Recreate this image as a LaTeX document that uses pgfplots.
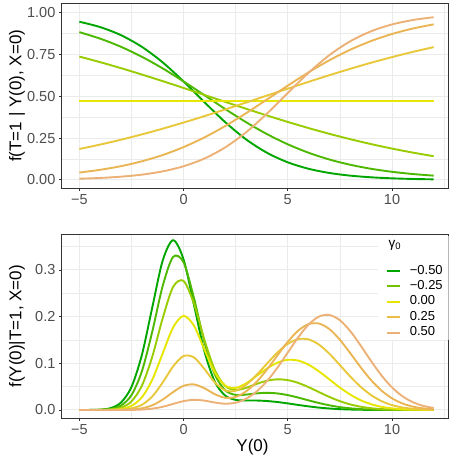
\documentclass[border=0pt]{standalone}
\usepackage{fontspec}
\setmainfont{Liberation Sans}
\usepackage{pgfplots}
\usepackage{pgfplotstable}
\pgfplotsset{compat=1.18}

\definecolor{cA}{HTML}{00A600}
\definecolor{cB}{HTML}{4DB800}
\definecolor{cC}{HTML}{99CC00}
\definecolor{cD}{HTML}{E6E600}
\definecolor{cE}{HTML}{E8C83A}
\definecolor{cF}{HTML}{EAB655}
\definecolor{cG}{HTML}{ECB176}
\definecolor{lB}{HTML}{73C200}
\definecolor{lE}{HTML}{E9BF48}
\definecolor{gridc}{HTML}{EBEBEB}
\definecolor{tickc}{HTML}{4D4D4D}
\definecolor{borderc}{HTML}{333333}

% propensity f(T=1 | Y(0), X=0) for the seven gamma values
\pgfplotstableread{
x  a      b      c      e      f      g
-5 0.9458 0.8836 0.7375 0.1849 0.0441 0.0072
-4 0.9137 0.8447 0.7041 0.2114 0.0605 0.0119
-3 0.8653 0.7958 0.6682 0.2405 0.0824 0.0195
-2 0.7958 0.7363 0.6302 0.2722 0.1114 0.0317
-1 0.7027 0.6667 0.5907 0.3065 0.1489 0.0512
0  0.5890 0.5890 0.5498 0.3430 0.1962 0.0817
1  0.4651 0.5067 0.5083 0.3815 0.2541 0.1279
2  0.3452 0.4239 0.4667 0.4215 0.3223 0.1947
3  0.2423 0.3452 0.4256 0.4626 0.3989 0.2850
4  0.1625 0.2742 0.3854 0.5042 0.4808 0.3965
5  0.1053 0.2130 0.3468 0.5457 0.5638 0.5200
6  0.0666 0.1625 0.3100 0.5866 0.6434 0.6411
7  0.0415 0.1220 0.2755 0.6264 0.7157 0.7465
8  0.0256 0.0906 0.2435 0.6645 0.7785 0.8292
9  0.0157 0.0666 0.2142 0.7006 0.8306 0.8889
10 0.0096 0.0486 0.1874 0.7343 0.8725 0.9296
11 0.0058 0.0353 0.1634 0.7656 0.9052 0.9561
12 0.0035 0.0256 0.1418 0.7941 0.9302 0.9729
}\topdata

% density f(Y(0) | T=1, X=0) for the seven gamma values
\pgfplotstableread{
x    a      b      c      d      e      f      g
-5   0.0000 0.0000 0.0000 0.0000 0.0000 0.0000 0.0000
-4.5 0.0001 0.0001 0.0000 0.0000 0.0000 0.0000 0.0000
-4   0.0008 0.0004 0.0002 0.0001 0.0000 0.0000 0.0000
-3.5 0.0040 0.0022 0.0011 0.0004 0.0001 0.0000 0.0000
-3   0.0160 0.0095 0.0050 0.0022 0.0008 0.0002 0.0000
-2.5 0.0491 0.0317 0.0183 0.0088 0.0033 0.0010 0.0002
-2   0.1177 0.0827 0.0518 0.0271 0.0111 0.0036 0.0009
-1.5 0.2199 0.1680 0.1143 0.0649 0.0290 0.0101 0.0029
-1   0.3203 0.2659 0.1967 0.1214 0.0589 0.0223 0.0069
-0.5 0.3638 0.3282 0.2639 0.1770 0.0934 0.0385 0.0130
0    0.3227 0.3166 0.2766 0.2017 0.1157 0.0518 0.0190
0.5  0.2251 0.2399 0.2279 0.1806 0.1126 0.0548 0.0218
1    0.1259 0.1458 0.1505 0.1297 0.0879 0.0465 0.0201
1.5  0.0606 0.0763 0.0856 0.0802 0.0590 0.0339 0.0160
2    0.0308 0.0421 0.0514 0.0523 0.0419 0.0262 0.0134
2.5  0.0217 0.0323 0.0429 0.0474 0.0412 0.0280 0.0156
3    0.0204 0.0330 0.0475 0.0571 0.0540 0.0399 0.0241
3.5  0.0203 0.0356 0.0558 0.0729 0.0749 0.0601 0.0394
4    0.0192 0.0368 0.0626 0.0889 0.0993 0.0866 0.0618
4.5  0.0171 0.0355 0.0657 0.1014 0.1230 0.1167 0.0904
5    0.0141 0.0319 0.0640 0.1075 0.1418 0.1461 0.1231
5.5  0.0108 0.0266 0.0581 0.1059 0.1519 0.1701 0.1557
6    0.0077 0.0206 0.0489 0.0970 0.1512 0.1841 0.1832
6.5  0.0051 0.0149 0.0383 0.0826 0.1400 0.1852 0.2003
7    0.0032 0.0100 0.0279 0.0654 0.1204 0.1732 0.2036
7.5  0.0018 0.0062 0.0189 0.0481 0.0963 0.1505 0.1923
8    0.0010 0.0036 0.0119 0.0329 0.0716 0.1216 0.1689
8.5  0.0005 0.0019 0.0070 0.0209 0.0495 0.0914 0.1379
9    0.0002 0.0010 0.0038 0.0124 0.0318 0.0638 0.1047
9.5  0.0001 0.0004 0.0019 0.0068 0.0190 0.0414 0.0738
10   0.0000 0.0002 0.0009 0.0035 0.0105 0.0250 0.0484
10.5 0.0000 0.0001 0.0004 0.0016 0.0054 0.0140 0.0295
11   0.0000 0.0000 0.0002 0.0007 0.0026 0.0073 0.0167
11.5 0.0000 0.0000 0.0001 0.0003 0.0012 0.0035 0.0088
12   0.0000 0.0000 0.0000 0.0001 0.0005 0.0016 0.0043
}\botdata

\pgfplotsset{
  myaxis/.style={
    scale only axis,
    anchor=south west,
    width=386.9pt,
    xmin=-5.85, xmax=12.71,
    xtick={-5,0,5,10}, xticklabels={−5,0,5,10},
    minor xtick={-2.5,2.5,7.5,12.5},
    grid=both,
    major grid style={gridc, line width=1pt},
    minor grid style={gridc, line width=0.55pt},
    tick align=outside,
    tick pos=left,
    major tick length=2.7pt,
    minor tick length=0pt,
    tick style={borderc, line width=0.9pt},
    axis line style={borderc, line width=0.9pt},
    ticklabel style={font=\fontsize{14.5}{17}\selectfont, color=tickc},
    label style={font=\fontsize{17}{20}\selectfont},
    every axis plot/.append style={line width=1.9pt, smooth, no markers},
  }
}

\begin{document}
\begin{tikzpicture}
\path[use as bounding box] (0,0) rectangle (449pt,461pt);

\begin{axis}[myaxis,
  at={(61.6pt,272.7pt)},
  height=185pt,
  ymin=-0.05, ymax=1.056,
  ytick={0,0.25,0.5,0.75,1}, yticklabels={0.00,0.25,0.50,0.75,1.00},
  minor ytick={0.125,0.375,0.625,0.875},
  ylabel={f(T=1 | Y(0), X=0)},
  ylabel style={at={(axis description cs:-0.1153,0.5)}, anchor=center},
]
\addplot[cA] table[x=x, y=a] {\topdata};
\addplot[cB] table[x=x, y=b] {\topdata};
\addplot[cC] table[x=x, y=c] {\topdata};
\addplot[cD] coordinates {(-5,0.473) (12,0.473)};
\addplot[cE] table[x=x, y=e] {\topdata};
\addplot[cF] table[x=x, y=f] {\topdata};
\addplot[cG] table[x=x, y=g] {\topdata};
\end{axis}

\begin{axis}[myaxis,
  at={(61.6pt,42.7pt)},
  height=184pt,
  ymin=-0.0178, ymax=0.3765,
  ytick={0,0.1,0.2,0.3}, yticklabels={0.0,0.1,0.2,0.3},
  minor ytick={0.05,0.15,0.25,0.35},
  xlabel={Y(0)},
  xlabel style={at={(axis description cs:0.4935,-0.156)}, anchor=center},
  ylabel={f(Y(0)|T=1, X=0)},
  ylabel style={at={(axis description cs:-0.1153,0.5)}, anchor=center},
  legend style={at={(axis description cs:0.8385,0.834)}, anchor=north west,
    draw=none, fill=none, inner sep=0pt, row sep=3.4pt,
    font=\fontsize{13}{15}\selectfont,
    nodes={inner sep=0pt, text height=9pt, text depth=3pt},
    /tikz/every odd column/.append style={column sep=8.7pt}},
  legend cell align=left,
  legend image code/.code={\draw[#1, line width=1.9pt, sharp plot] (0pt,0pt) -- (13pt,0pt);},
]
\fill[white] (axis description cs:0.818,0.425) rectangle (axis description cs:1.0,0.991);
\node[anchor=west, font=\fontsize{13.5}{16}\selectfont] at (axis description cs:0.836,0.942) {γ\textsubscript{0}};
\addplot[cA, forget plot] table[x=x, y=a] {\botdata};
\addplot[cB, forget plot] table[x=x, y=b] {\botdata};
\addplot[cC, forget plot] table[x=x, y=c] {\botdata};
\addplot[cD, forget plot] table[x=x, y=d] {\botdata};
\addplot[cE, forget plot] table[x=x, y=e] {\botdata};
\addplot[cF, forget plot] table[x=x, y=f] {\botdata};
\addplot[cG, forget plot] table[x=x, y=g] {\botdata};
\addlegendimage{cA}
\addlegendentry{−0.50}
\addlegendimage{lB}
\addlegendentry{−0.25}
\addlegendimage{cD}
\addlegendentry{0.00}
\addlegendimage{lE}
\addlegendentry{0.25}
\addlegendimage{cG}
\addlegendentry{0.50}
\end{axis}
\end{tikzpicture}
\end{document}
